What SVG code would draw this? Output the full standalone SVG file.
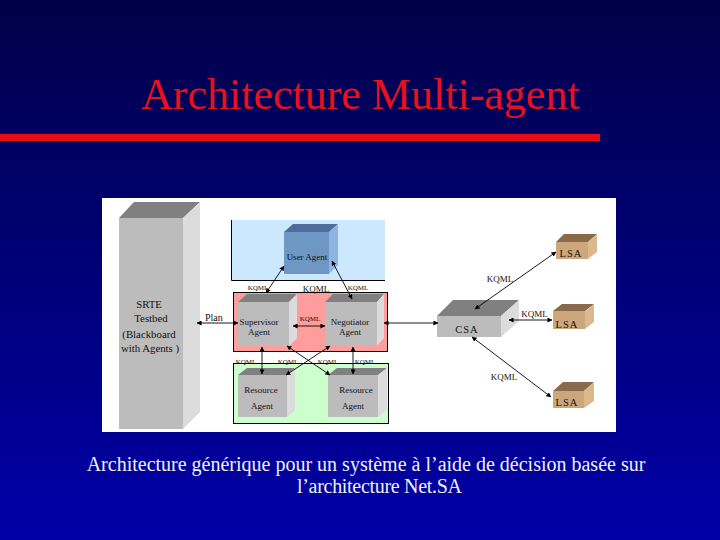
<svg xmlns="http://www.w3.org/2000/svg" width="720" height="540" viewBox="0 0 720 540">
<defs>
<linearGradient id="bg" x1="0" y1="0" x2="0" y2="1"><stop offset="0" stop-color="#000048"/><stop offset="1" stop-color="#0000a8"/></linearGradient>
<marker id="a" viewBox="0 0 6 6" refX="5.5" refY="3" markerWidth="5" markerHeight="5" markerUnits="userSpaceOnUse" orient="auto-start-reverse"><path d="M0 0L6 3L0 6Z" fill="#000"/></marker>
<style>
.s{font-family:"Liberation Serif","Times New Roman",serif}
.t{font-size:44px;fill:#e8101c}
.c{font-size:20px;fill:#f0f0f4;text-anchor:middle}
.l{fill:#111;text-anchor:middle;font-size:9px}
.k{fill:#111;text-anchor:middle;font-size:7px}
.m{fill:#111;text-anchor:middle;font-size:10.500px}
.b{fill:#111;text-anchor:middle;font-size:10.800px}
.f{fill:#bcbcbc}.p{fill:#808080}.d{fill:#dcdcdc}
.ff{fill:#cda77c}.fp{fill:#8a6a4c}.fd{fill:#dcb98c}
.cn{fill:none;stroke:#000;stroke-width:.9;marker-start:url(#a);marker-end:url(#a)}
</style>
</defs>
<rect width="720" height="540" fill="url(#bg)"/>
<text class="s t" x="141" y="109">Architecture Multi-agent</text>
<rect x="0" y="134" width="600" height="7" fill="#e80a14"/>
<rect x="102" y="198" width="514" height="234" fill="#fff"/>
<g id="user-panel"><rect x="231" y="220" width="154" height="60" fill="#cce8ff"/><path d="M231.500 220V280.500H385" fill="none" stroke="#000"/></g>
<g id="red-panel"><rect x="233.500" y="292.500" width="154" height="59" fill="#ff9c9c" stroke="#000"/></g>
<g id="green-panel"><rect x="233.500" y="363.500" width="155" height="60" fill="#ccffcc" stroke="#000"/></g>
<g id="srte"><path class="p" d="M119 218L134 202H200L183 218Z"/><path class="d" d="M183 218L200 202V412L183 429Z"/><rect class="f" x="119" y="218" width="64" height="211"/>
<text class="s b" x="149" y="308">SRTE</text><text class="s b" x="151" y="322">Testbed</text><text class="s b" x="149" y="338">(Blackboard</text><text class="s b" x="150" y="352">with Agents )</text></g>
<g id="user-agent"><path fill="#4f6d9a" d="M284 232L293 224H338L329 232Z"/><path fill="#8fb4e4" d="M329 232L338 224V265L329 274Z"/><rect fill="#6f97c4" x="284" y="232" width="45" height="42"/><text class="s l" x="307" y="260">User Agent</text></g>
<g id="supervisor"><path class="p" d="M238 302L247 294H297L289 302Z"/><path class="d" d="M289 302L297 294V338L289 346Z"/><rect class="f" x="238" y="302" width="51" height="44"/><text class="s l" x="259" y="325">Supervisor</text><text class="s l" x="259" y="335">Agent</text></g>
<g id="negotiator"><path class="p" d="M325 302L333 294H384L377 302Z"/><path class="d" d="M377 302L384 294V338L377 346Z"/><rect class="f" x="325" y="302" width="52" height="44"/><text class="s l" x="350" y="325">Negotiator</text><text class="s l" x="350" y="335">Agent</text></g>
<g id="resource-1"><path class="p" d="M238 375L247 368H295L287 375Z"/><path class="d" d="M287 375L295 368V410L287 417Z"/><rect class="f" x="238" y="375" width="49" height="42"/><text class="s l" x="261" y="393">Resource</text><text class="s l" x="262" y="409">Agent</text></g>
<g id="resource-2"><path class="p" d="M328 375L337 368H387L378 375Z"/><path class="d" d="M378 375L387 368V410L378 417Z"/><rect class="f" x="328" y="375" width="50" height="42"/><text class="s l" x="356" y="393">Resource</text><text class="s l" x="353" y="409">Agent</text></g>
<g id="csa"><path class="p" d="M437 316L453 300H519L501 316Z"/><path class="d" d="M501 316L519 300V321L501 337Z"/><rect class="f" x="437" y="316" width="64" height="21"/><text class="s m" x="467" y="333" style="letter-spacing:1px">CSA</text></g>
<g id="lsa-1"><path class="fp" d="M556 242L564 234H597L588 242Z"/><path class="fd" d="M588 242L597 234V252L588 259Z"/><rect class="ff" x="556" y="242" width="32" height="17"/><text class="s m" x="571" y="257" style="letter-spacing:1px">LSA</text></g>
<g id="lsa-2"><path class="fp" d="M553 311L562 304H594L585 311Z"/><path class="fd" d="M585 311L594 304V322L585 329Z"/><rect class="ff" x="553" y="311" width="32" height="18"/><text class="s m" x="567" y="328" style="letter-spacing:1px">LSA</text></g>
<g id="lsa-3"><path class="fp" d="M553 391L563 382H594L584 391Z"/><path class="fd" d="M584 391L594 382V401L584 408Z"/><rect class="ff" x="553" y="391" width="31" height="17"/><text class="s m" x="567" y="406" style="letter-spacing:1px">LSA</text></g>
<g id="connectors">
<path class="cn" d="M266 293L284 266"/><path class="cn" d="M332 261L352 299"/><path class="cn" d="M197 323H238"/><path class="cn" d="M293 326H325"/><path class="cn" d="M384 323H438"/><path class="cn" d="M262 347V374"/><path class="cn" d="M353 347V374"/><path class="cn" d="M287 346L330 375"/><path class="cn" d="M330 346L286 375"/><path class="cn" d="M475 309L556 252"/><path class="cn" d="M509 320H552"/><path class="cn" d="M472 337L551 397"/>
</g>
<g id="labels">
<text class="s k" x="258" y="290">KQML</text><text class="s k" x="358" y="290">KQML</text><text class="s l" x="316" y="292">KQML</text><text class="s" x="205" y="321" font-size="10" fill="#111">Plan</text><text class="s k" x="310" y="321">KQML</text><text class="s k" x="246" y="364">KQML</text><text class="s k" x="288" y="364">KQML</text><text class="s k" x="328" y="364">KQML</text><text class="s k" x="365" y="364">KQML</text>
<text class="s l" x="500" y="282">KQML</text><text class="s l" x="534.500" y="317">KQML</text><text class="s l" x="504" y="380">KQML</text>
</g>
<text class="s c" x="366" y="471">Architecture générique pour un système à l’aide de décision basée sur</text>
<text class="s c" x="379.500" y="493" textLength="165">l’architecture Net.SA</text>
</svg>
